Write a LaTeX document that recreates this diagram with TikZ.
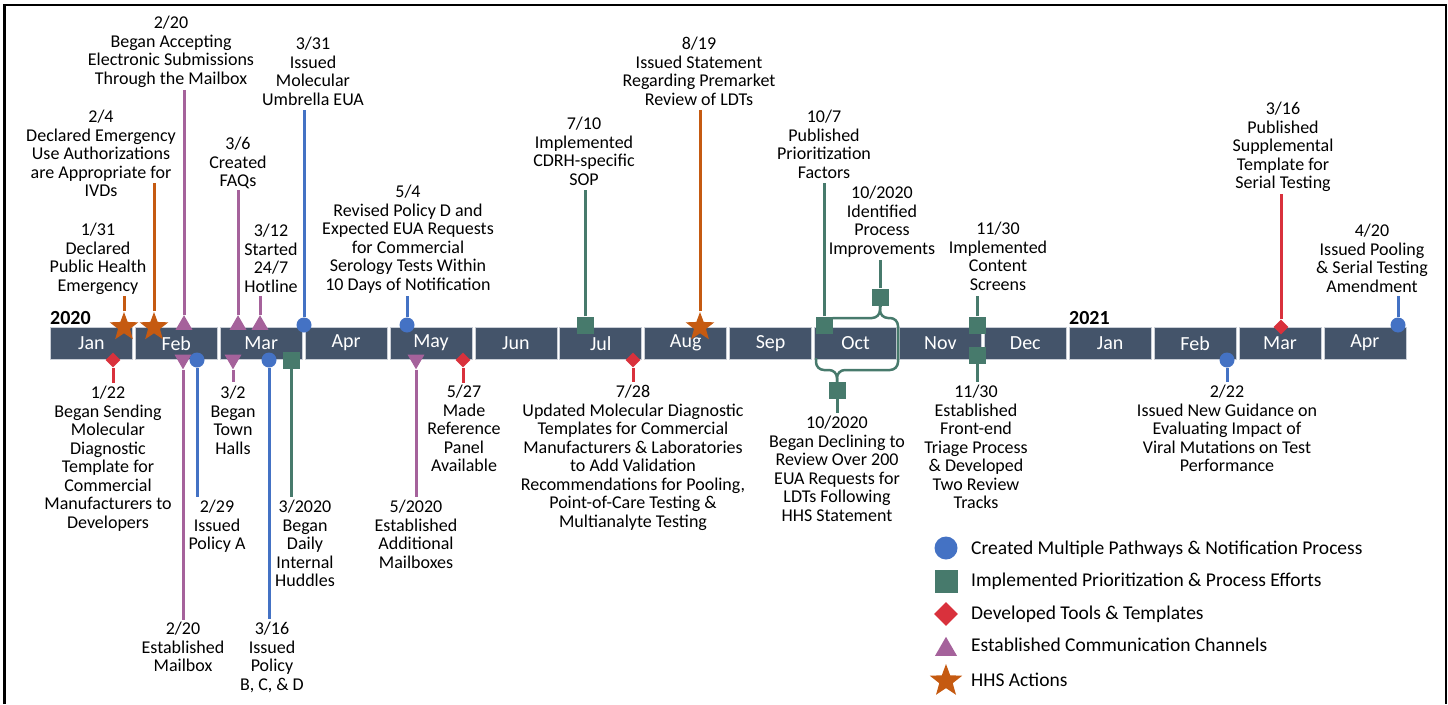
\documentclass[tikz,border=0pt]{standalone}
\usepackage{fontspec}
\setmainfont{Carlito}
\usetikzlibrary{shapes.geometric}
\definecolor{barc}{HTML}{44546A}
\definecolor{barline}{HTML}{C9CED6}
\definecolor{cblue}{HTML}{4472C4}
\definecolor{cgreen}{HTML}{477A6C}
\definecolor{cred}{HTML}{D9313C}
\definecolor{cpurp}{HTML}{A5629B}
\definecolor{corange}{HTML}{C55A11}
\newcommand\evfont{\fontsize{18}{18.5}\selectfont}
\newcommand\monfont{\fontsize{20}{24}\selectfont}
\newcommand\legfont{\fontsize{19.5}{23}\selectfont}
\begin{document}
\begin{tikzpicture}[x=1pt,y=-1pt,
  mon/.style={rectangle,fill=barc,draw=barline,line width=0.8pt,minimum width=82pt,minimum height=31.5pt,inner sep=0pt,text=white,font=\monfont,anchor=north west},
  lbl/.style={align=center,inner sep=0pt,font=\evfont,anchor=north,execute at begin node=\strut,execute at end node=\strut},
  stem/.style={line width=3pt},
  circm/.style={circle,fill=#1,inner sep=0pt,minimum size=15pt},
  sqm/.style={rectangle,fill=#1,inner sep=0pt,minimum size=17pt},
  diam/.style={diamond,fill=#1,inner sep=0pt,minimum size=15pt},
  triup/.style={regular polygon,regular polygon sides=3,fill=#1,inner sep=0pt,minimum size=19.6pt},
  tridn/.style={regular polygon,regular polygon sides=3,shape border rotate=180,fill=#1,inner sep=0pt,minimum size=19.6pt},
  starm/.style={star,star points=5,star point ratio=2.4,fill=#1,inner sep=0pt,minimum size=30pt},
  leg/.style={anchor=base west,inner sep=0pt,font=\legfont},
  brk/.style={cgreen,line width=2.5pt,rounded corners=8pt}
]
\useasboundingbox (0,0) rectangle (1448,704);
% frame
\draw[line width=2.5pt] (4.7,704) -- (4.7,5) -- (1446,5) -- (1446,704);

% month bar
\foreach \n [count=\i from 0] in {Jan,Feb,Mar,Apr,May,Jun,Jul,Aug,Sep,Oct,Nov,Dec,Jan,Feb,Mar,Apr}{
  \node[mon] (m\i) at ({50+\i*84.9},327) {\n};
}
\node[anchor=base west,inner sep=0pt,font=\monfont\bfseries] (y2020) at (50,324) {2020};
\node[anchor=base west,inner sep=0pt,font=\monfont\bfseries] (y2021) at (1069,324) {2021};

% ===== markers above =====
\node[starm=corange] (pA1) at (124,327) {};
\node[starm=corange] (pA2) at (154,327) {};
\node[triup=cpurp] (pA3) at (184,325) {};
\node[triup=cpurp] (pA4) at (238,325) {};
\node[triup=cpurp] (pA5) at (260,325) {};
\node[circm=cblue] (pA6) at (304,325) {};
\node[circm=cblue] (pA7) at (407,325) {};
\node[sqm=cgreen] (pA8) at (585,325) {};
\node[starm=corange] (pA9) at (700,327) {};
\node[sqm=cgreen] (pA10) at (824,325) {};
\node[sqm=cgreen] (pA11) at (880,297) {};
\node[sqm=cgreen] (pA12) at (977,325) {};
\node[diam=cred] (pA13) at (1281,327) {};
\node[circm=cblue] (pA14) at (1398,325) {};

% stem ends above
\coordinate (eA1) at (124,296);
\coordinate (eA2) at (154,183);
\coordinate (eA3) at (184,90);
\coordinate (eA4) at (238,190);
\coordinate (eA5) at (260,296);
\coordinate (eA6) at (304,110);
\coordinate (eA7) at (407,296);
\coordinate (eA8) at (585,190);
\coordinate (eA9) at (700,110);
\coordinate (eA10) at (824,183);
\coordinate (eA11) at (880,260);
\coordinate (eA12) at (977,296);
\coordinate (eA13) at (1281,194);
\coordinate (eA14) at (1398,296);

\draw[stem,corange] (pA1) -- (eA1);
\draw[stem,corange] (pA2) -- (eA2);
\draw[stem,cpurp] (pA3) -- (eA3);
\draw[stem,cpurp] (pA4) -- (eA4);
\draw[stem,cpurp] (pA5) -- (eA5);
\draw[stem,cblue] (pA6) -- (eA6);
\draw[stem,cblue] (pA7) -- (eA7);
\draw[stem,cgreen] (pA8) -- (eA8);
\draw[stem,corange] (pA9) -- (eA9);
\draw[stem,cgreen] (pA10) -- (eA10);
\draw[stem,cgreen] (pA11) -- (eA11);
\draw[stem,cgreen] (pA12) -- (eA12);
\draw[stem,cred] (pA13) -- (eA13);
\draw[stem,cblue] (pA14) -- (eA14);

% labels above
\node[lbl] (tA1) at (98,223) {1/31\\Declared\\Public Health\\Emergency};
\node[lbl] (tA2) at (101,110) {2/4\\Declared Emergency\\Use Authorizations\\are Appropriate for\\IVDs};
\node[lbl] (tA3) at (171,16) {2/20\\Began Accepting\\Electronic Submissions\\Through the Mailbox};
\node[lbl] (tA4) at (238,137) {3/6\\Created\\FAQs};
\node[lbl] (tA5) at (271,224) {3/12\\Started\\24/7\\Hotline};
\node[lbl] (tA6) at (313,37) {3/31\\Issued\\Molecular\\Umbrella EUA};
\node[lbl] (tA7) at (408,185) {5/4\\Revised Policy D and\\Expected EUA Requests\\for Commercial\\Serology Tests Within\\10 Days of Notification};
\node[lbl] (tA8) at (584,117) {7/10\\Implemented\\CDRH-specific\\SOP};
\node[lbl] (tA9) at (699,37) {8/19\\Issued Statement\\Regarding Premarket\\Review of LDTs};
\node[lbl] (tA10) at (824,110) {10/7\\Published\\Prioritization\\Factors};
\node[lbl] (tA11) at (882,186) {10/2020\\Identified\\Process\\Improvements};
\node[lbl] (tA12) at (998,222) {11/30\\Implemented\\Content\\Screens};
\node[lbl] (tA13) at (1283,102) {3/16\\Published\\Supplemental\\Template for\\Serial Testing};
\node[lbl] (tA14) at (1372,224) {4/20\\Issued Pooling\\\& Serial Testing\\Amendment};

% ===== markers below =====
\node[diam=cred] (pB1) at (113,360) {};
\node[tridn=cpurp] (pB2) at (183,359.5) {};
\node[circm=cblue] (pB3) at (197,360) {};
\node[tridn=cpurp] (pB4) at (233,359.5) {};
\node[circm=cblue] (pB5) at (269,360) {};
\node[sqm=cgreen] (pB6) at (291,360) {};
\node[tridn=cpurp] (pB7) at (416,359.5) {};
\node[diam=cred] (pB8) at (463,360) {};
\node[diam=cred] (pB9) at (633,360) {};
\node[sqm=cgreen] (pB10) at (837,390) {};
\node[sqm=cgreen] (pB11) at (977,355) {};
\node[circm=cblue] (pB12) at (1227,360) {};

\coordinate (eB1) at (113,383);
\coordinate (eB2) at (183,620);
\coordinate (eB3) at (197,497);
\coordinate (eB4) at (233,382);
\coordinate (eB5) at (269,619);
\coordinate (eB6) at (291,497);
\coordinate (eB7) at (416,497);
\coordinate (eB8) at (463,383);
\coordinate (eB9) at (633,382);
\coordinate (eB10) at (837,413);
\coordinate (eB11) at (977,382);
\coordinate (eB12) at (1227,382);

\draw[stem,cred] (pB1) -- (eB1);
\draw[stem,cpurp] (pB2) -- (eB2);
\draw[stem,cblue] (pB3) -- (eB3);
\draw[stem,cpurp] (pB4) -- (eB4);
\draw[stem,cblue] (pB5) -- (eB5);
\draw[stem,cgreen] (pB6) -- (eB6);
\draw[stem,cpurp] (pB7) -- (eB7);
\draw[stem,cred] (pB8) -- (eB8);
\draw[stem,cred] (pB9) -- (eB9);
\draw[stem,cgreen] (pB10) -- (eB10);
\draw[stem,cgreen] (pB11) -- (eB11);
\draw[stem,cblue] (pB12) -- (eB12);

% October bracket
\coordinate (cT) at (880,306);
\coordinate (cB) at (837,382);
\draw[brk] (pA10.east |- 0,318) -- (880,318) -- (cT);
\draw[brk] (cT) -- (880,318) -- (898,318) -- (898,370) -- (837,370) -- (cB);
\draw[brk] (cB) -- (837,370) -- (816,370) -- (816,358);
\draw[stem,cgreen] (pA11) -- (cT);

% labels below
\node[lbl] (tB1) at (108,386) {1/22\\Began Sending\\Molecular\\Diagnostic\\Template for\\Commercial\\Manufacturers to\\Developers};
\node[lbl] (tB2) at (183,622) {2/20\\Established\\Mailbox};
\node[lbl] (tB3) at (217,500) {2/29\\Issued\\Policy A};
\node[lbl] (tB4) at (233,386) {3/2\\Began\\Town\\Halls};
\node[lbl] (tB5) at (272,622) {3/16\\Issued\\Policy\\B, C, \& D};
\node[lbl] (tB6) at (305,500) {3/2020\\Began\\Daily\\Internal\\Huddles};
\node[lbl] (tB7) at (416,500) {5/2020\\Established\\Additional\\Mailboxes};
\node[lbl] (tB8) at (464,385) {5/27\\Made\\Reference\\Panel\\Available};
\node[lbl] (tB9) at (633,385) {7/28\\Updated Molecular Diagnostic\\Templates for Commercial\\Manufacturers \& Laboratories\\to Add Validation\\Recommendations for Pooling,\\Point-of-Care Testing \&\\Multianalyte Testing};
\node[lbl] (tB10) at (837,416) {10/2020\\Began Declining to\\Review Over 200\\EUA Requests for\\LDTs Following\\HHS Statement};
\node[lbl] (tB11) at (976,385) {11/30\\Established\\Front-end\\Triage Process\\\& Developed\\Two Review\\Tracks};
\node[lbl] (tB12) at (1227,385) {2/22\\Issued New Guidance on\\Evaluating Impact of\\Viral Mutations on Test\\Performance};

% legend
\node[circm=cblue,minimum size=23pt] (l1) at (946,548) {};
\node[sqm=cgreen,minimum size=23pt] (l2) at (946,581) {};
\node[diam=cred,minimum size=24pt] (l3) at (946,614) {};
\node[triup=cpurp,minimum size=25.4pt] (l4) at (946,649.5) {};
\node[starm=corange,minimum size=34pt] (l5) at (946,681) {};
\node[leg] (lt1) at (971,554.5) {Created Multiple Pathways \& Notification Process};
\node[leg] (lt2) at (971,586.5) {Implemented Prioritization \& Process Efforts};
\node[leg] (lt3) at (971,619.5) {Developed Tools \& Templates};
\node[leg] (lt4) at (971,651.5) {Established Communication Channels};
\node[leg] (lt5) at (971,686.5) {HHS Actions};
\end{tikzpicture}
\end{document}
